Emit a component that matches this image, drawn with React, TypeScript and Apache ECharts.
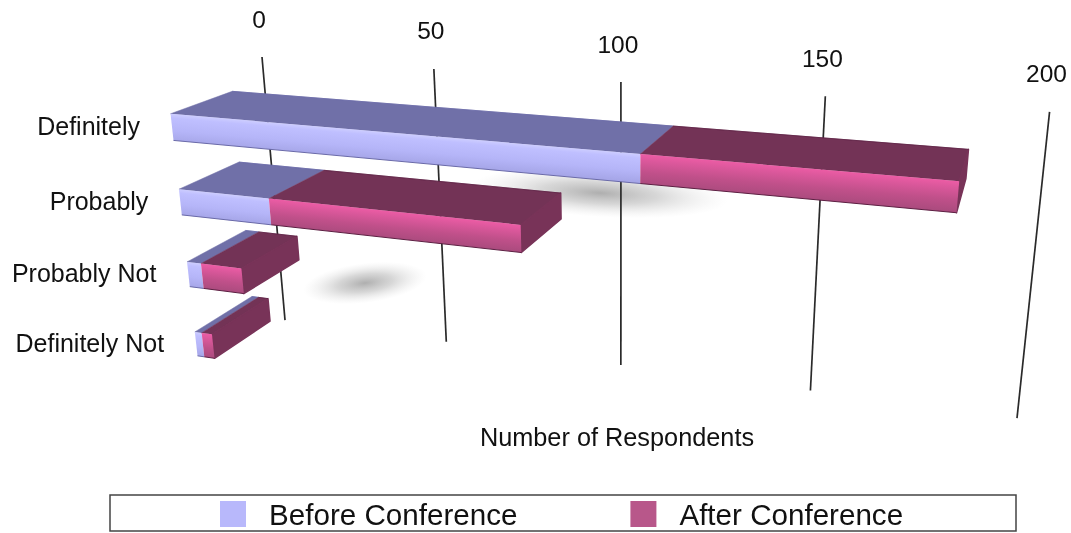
import React, { useEffect, useRef } from "react";
import * as echarts from "echarts";

const categories = ["Definitely", "Probably", "Probably Not", "Definitely Not"];
const beforeValues = [117.5, 25, 4, 2];
const afterValues = [66.5, 64.5, 11.5, 3];
const tickValues = [0, 50, 100, 150, 200];
const seriesNames = ["Before Conference", "After Conference"];
const axisTitle = "Number of Respondents";

const FONT = '"Liberation Sans", Arial, sans-serif';
const G = { left: 100, top: 100, width: 800, height: 400 };

// Perspective camera fitted to the picture: three vanishing points and the image of the origin.
const ALPHA = -0.000813;
const BETA = 0.0687;
const project = (v: number, f: number, t: number): number[] => {
  const A = ALPHA * v;
  const B = BETA * f;
  const W = 1 + A + B + t;
  return [(262 - 3794 * A + 620 * B + 1074 * t) / W, (57 - 226 * A + 4150 * B - 215 * t) / W];
};
const FRONT = -0.104;
const BACK = -0.038;
const HALF = 0.003 / BETA;

const blueStops = [
  { offset: 0, color: "#cdcdff" },
  { offset: 0.15, color: "#bfbfff" },
  { offset: 0.6, color: "#b5b5f8" },
  { offset: 1, color: "#a6a6e8" },
];
const pinkStops = [
  { offset: 0, color: "#ec5ca5" },
  { offset: 0.2, color: "#dc589c" },
  { offset: 0.6, color: "#c0508a" },
  { offset: 1, color: "#ab4b7e" },
];
const styles = [
  { top: "#7070a8", stops: blueStops, edge: "#6a6aa8", side: "#7070a8", color: "#b8b8fb" },
  { top: "#733356", stops: pinkStops, edge: "#5c1f42", side: "#783358", color: "#b8578a" },
];

const toValue = (px: number) => (200 * (px - G.left)) / G.width;
const toFrac = (py: number) => (py - G.top) / G.height;

const barRender = (si: number) => (_p: any, api: any) => {
  const s = styles[si];
  const a = api.coord([api.value(0), api.value(2)]);
  const b = api.coord([api.value(1), api.value(2)]);
  const v0 = toValue(a[0]);
  const v1 = toValue(b[0]);
  const f = toFrac(a[1]);
  const topY = f - HALF;
  const botY = f + HALF;
  const children: any[] = [];
  children.push({
    type: "polygon",
    shape: { points: [project(v0, topY, FRONT), project(v0, topY, BACK), project(v1, topY, BACK), project(v1, topY, FRONT)] },
    style: { fill: s.top, stroke: s.top, lineWidth: 0.5, lineJoin: "round" },
  });
  if (si === 1) {
    children.push({
      type: "polygon",
      shape: { points: [project(v1, topY, FRONT), project(v1, topY, BACK), project(v1, botY, BACK), project(v1, botY, FRONT)] },
      style: { fill: s.side, stroke: s.side, lineWidth: 1.5, lineJoin: "round" },
    });
  }
  // Gradient runs across the front face, at right angles to its top edge.
  const tl = project(v0, topY, FRONT);
  const tr = project(v1, topY, FRONT);
  const bl = project(v0, botY, FRONT);
  const br = project(v1, botY, FRONT);
  const mt = [(tl[0] + tr[0]) / 2, (tl[1] + tr[1]) / 2];
  const mb = [(bl[0] + br[0]) / 2, (bl[1] + br[1]) / 2];
  const dx = tr[0] - tl[0];
  const dy = tr[1] - tl[1];
  const len = Math.hypot(dx, dy) || 1;
  const nx = -dy / len;
  const ny = dx / len;
  const d = (mb[0] - mt[0]) * nx + (mb[1] - mt[1]) * ny;
  children.push({
    type: "polygon",
    shape: { points: [tl, tr, br, bl] },
    style: {
      fill: new echarts.graphic.LinearGradient(mt[0], mt[1], mt[0] + nx * d, mt[1] + ny * d, s.stops, true),
    },
  });
  children.push({
    type: "polyline",
    shape: { points: [bl, br] },
    style: { fill: "none", stroke: s.edge, lineWidth: 1 },
  });
  children.push({
    type: "polyline",
    shape: { points: [project(v0, topY, BACK), project(v1, topY, BACK)] },
    style: { fill: "none", stroke: s.edge, lineWidth: 0.8 },
  });
  return { type: "group", children };
};

const gridRender = (_p: any, api: any) => {
  const tick = api.value(0);
  const v = toValue(api.coord([tick, 0])[0]);
  const top = project(v, 0, 0);
  const bottom = project(v, 1, 0);
  return {
    type: "group",
    children: [
      { type: "line", shape: { x1: top[0], y1: top[1], x2: bottom[0], y2: bottom[1] }, style: { stroke: "#2a2a2a", lineWidth: 1.7 } },
      {
        type: "text",
        style: { text: String(tick), x: top[0] - 3, y: top[1] - 38, font: `24.5px ${FONT}`, fill: "#111", align: "center", verticalAlign: "middle" },
      },
    ],
  };
};

const catRender = (_p: any, api: any) => {
  const i = api.value(1);
  const a = api.coord([0, i]);
  const p = project(toValue(a[0]), toFrac(a[1]), FRONT);
  return {
    type: "text",
    style: { text: categories[i], x: p[0] - 32, y: p[1] - 1, font: `25px ${FONT}`, fill: "#111", align: "right", verticalAlign: "middle" },
  };
};

const shadow = (cx: number, cy: number, rx: number, ry: number, rotation: number) => ({
  type: "ellipse",
  z: 0,
  x: cx,
  y: cy,
  rotation,
  shape: { cx: 0, cy: 0, rx, ry },
  style: {
    fill: new echarts.graphic.RadialGradient(0.5, 0.5, 0.5, [
      { offset: 0, color: "rgba(140,140,140,0.7)" },
      { offset: 0.45, color: "rgba(160,160,160,0.42)" },
      { offset: 1, color: "rgba(210,210,210,0)" },
    ]),
  },
  silent: true,
});

export default function App() {
  const ref = useRef<HTMLDivElement>(null);
  useEffect(() => {
    if (!ref.current) return;
    const chart = echarts.init(ref.current, undefined, { renderer: "svg" });
    const rows = (vals: number[], base: number[]) => vals.map((v, i) => [base[i], base[i] + v, i]);
    const zeros = categories.map(() => 0);
    chart.setOption({
      animation: false,
      backgroundColor: "#fff",
      grid: { ...G, containLabel: false },
      xAxis: { type: "value", min: 0, max: 200, show: false },
      yAxis: { type: "category", data: categories, inverse: true, show: false },
      legend: {
        data: seriesNames,
        left: 220,
        top: 499,
        padding: 0,
        itemWidth: 26,
        itemHeight: 26,
        itemGap: 113,
        icon: "rect",
        selectedMode: false,
        textStyle: { fontFamily: FONT, fontSize: 29.6, color: "#111", padding: [0, 0, 4, 18] },
      },
      graphic: [
        shadow(600, 193, 128, 24, -0.06),
        shadow(365, 283, 62, 20, 0.12),
        {
          type: "rect",
          z: 0,
          shape: { x: 110, y: 495, width: 906, height: 36 },
          style: { fill: "#fff", stroke: "#444", lineWidth: 1.5 },
          silent: true,
        },
        {
          type: "text",
          z: 3,
          style: { text: axisTitle, x: 617, y: 437, font: `25.3px ${FONT}`, fill: "#111", align: "center", verticalAlign: "middle" },
          silent: true,
        },
      ],
      series: [
        { type: "custom", name: "grid", silent: true, z: 1, renderItem: gridRender, data: tickValues.map((t) => [t, 0]), encode: { x: 0, y: 1 } },
        { type: "custom", name: "labels", silent: true, z: 1, renderItem: catRender, data: categories.map((_c, i) => [0, i]), encode: { x: 0, y: 1 } },
        {
          type: "custom",
          name: seriesNames[0],
          silent: true,
          z: 2,
          itemStyle: { color: styles[0].color },
          renderItem: barRender(0),
          data: rows(beforeValues, zeros),
          encode: { x: [0, 1], y: 2 },
        },
        {
          type: "custom",
          name: seriesNames[1],
          silent: true,
          z: 3,
          itemStyle: { color: styles[1].color },
          renderItem: barRender(1),
          data: rows(afterValues, beforeValues),
          encode: { x: [0, 1], y: 2 },
        },
      ],
    });
    return () => chart.dispose();
  }, []);
  return <div ref={ref} style={{ position: "absolute", left: 0, top: 0, width: 1071, height: 533, filter: "blur(0.7px)" }} />;
}
